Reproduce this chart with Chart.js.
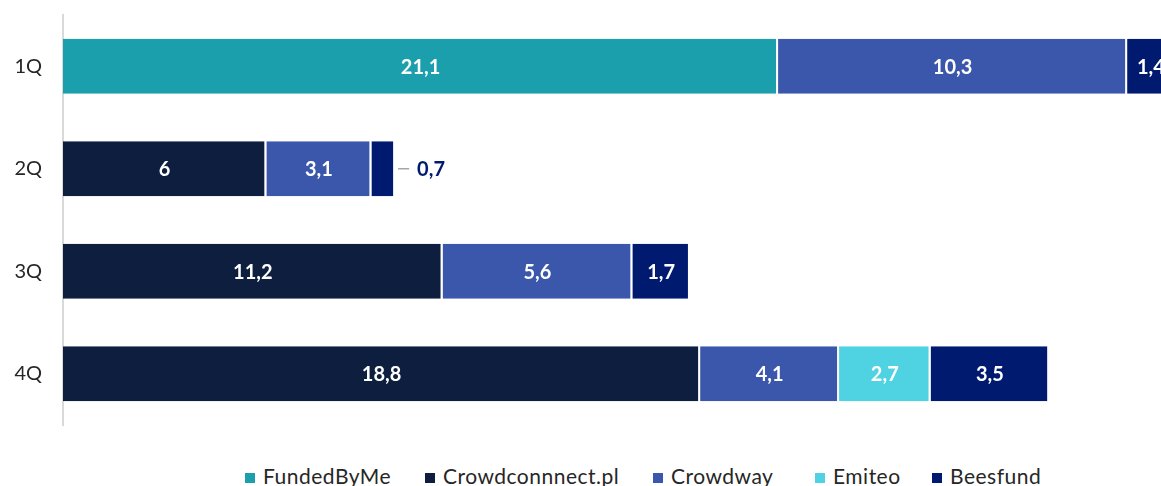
<!DOCTYPE html>
<html>
<head>
<meta charset="utf-8">
<script src="https://cdn.jsdelivr.net/npm/chart.js@4"></script>
<style>
  body { margin: 0; background: #fff; }
  #wrap { position: relative; width: 1161px; height: 486px; overflow: hidden; }
  #legend { position: absolute; left: 245px; top: 465px; height: 22px; white-space: nowrap;
            font-family: Lato, sans-serif; font-size: 21px; letter-spacing: 0.5px; color: #262626; line-height: 22px; }
  #legend span.item { display: inline-block; }
  #legend span.box { display: inline-block; width: 10px; height: 10px; margin-right: 8px; vertical-align: 1px; }
</style>
</head>
<body>
<div id="wrap">
  <canvas id="chart" width="1161" height="440"></canvas>
  <div id="legend"></div>
</div>
<script>
// dane
var categories = ['1Q', '2Q', '3Q', '4Q'];
var seriesNames = ['FundedByMe', 'Crowdconnnect.pl', 'Crowdway', 'Emiteo', 'Beesfund'];
var fundedByMe = [21.1, null, null, null];
var crowdconnect = [null, 6, 11.2, 18.8];
var crowdway = [10.3, 3.1, 5.6, 4.1];
var emiteo = [null, null, null, 2.7];
var beesfund = [1.4, 0.7, 1.7, 3.5];
var xMax = 32.4;

var colors = ['#1b9fad', '#0e1e3e', '#3a57ac', '#4fd2e2', '#001a70'];
var legendWidths = [180, 228, 162, 117, 110];

var seriesData = [fundedByMe, crowdconnect, crowdway, emiteo, beesfund];

var datasets = seriesData.map(function (d, i) {
  return {
    label: seriesNames[i],
    data: d,
    backgroundColor: colors[i],
    borderColor: '#ffffff',
    borderWidth: { top: 0, bottom: 0, left: 0, right: 2 },
    borderSkipped: false,
    barPercentage: 0.537,
    categoryPercentage: 1
  };
});

// etykiety wartosci
var valueLabels = {
  id: 'valueLabels',
  afterDatasetsDraw: function (chart) {
    var ctx = chart.ctx;
    ctx.save();
    ctx.font = 'bold 20px Lato';
    ctx.textBaseline = 'middle';
    chart.data.datasets.forEach(function (ds, di) {
      var meta = chart.getDatasetMeta(di);
      meta.data.forEach(function (bar, i) {
        var v = ds.data[i];
        if (v === null) return;
        var txt = v.toString().replace('.', ',');
        var w = ctx.measureText(txt).width;
        var left = Math.min(bar.x, bar.base), right = Math.max(bar.x, bar.base);
        if (right - left > w + 6) {
          ctx.fillStyle = '#ffffff';
          ctx.textAlign = 'center';
          ctx.fillText(txt, (left + right) / 2, bar.y + 1);
        } else {
          ctx.strokeStyle = '#a6a6a6';
          ctx.lineWidth = 1.5;
          ctx.beginPath();
          ctx.moveTo(right + 3, bar.y);
          ctx.lineTo(right + 14, bar.y);
          ctx.stroke();
          ctx.fillStyle = ds.backgroundColor;
          ctx.textAlign = 'left';
          ctx.fillText(txt, right + 22, bar.y + 1);
        }
      });
    });
    ctx.restore();
  }
};

var chart = new Chart(document.getElementById('chart').getContext('2d'), {
  type: 'bar',
  data: { labels: categories, datasets: datasets },
  plugins: [valueLabels],
  options: {
    indexAxis: 'y',
    responsive: false,
    animation: false,
    devicePixelRatio: 1,
    layout: { padding: { top: 15, bottom: 15, left: 0, right: 0 } },
    plugins: { legend: { display: false }, tooltip: { enabled: false } },
    scales: {
      x: { stacked: true, min: 0, max: xMax, display: false },
      y: {
        stacked: true,
        grid: { display: false, drawTicks: false },
        border: { color: '#d9d9d9', width: 2 },
        ticks: { font: { family: 'Lato', size: 20 }, color: '#262626', padding: 21 },
        afterFit: function (scale) {
          scale.width = 63;
          scale.paddingTop = 0;
          scale.paddingBottom = 0;
        }
      }
    }
  }
});

// legenda
var legend = document.getElementById('legend');
seriesNames.forEach(function (name, i) {
  var item = document.createElement('span');
  item.className = 'item';
  item.style.width = legendWidths[i] + 'px';
  var box = document.createElement('span');
  box.className = 'box';
  box.style.background = colors[i];
  item.appendChild(box);
  item.appendChild(document.createTextNode(name));
  legend.appendChild(item);
});
</script>
</body>
</html>
